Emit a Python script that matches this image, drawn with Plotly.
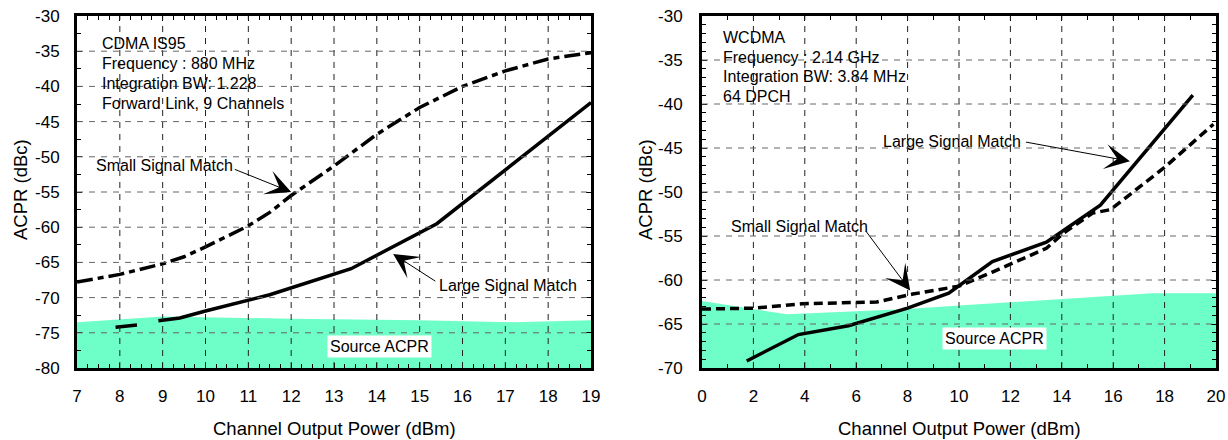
import plotly.graph_objects as go

# ---- CDMA IS95 (left panel) ----
cdma_small_x = [7, 8, 9, 9.5, 10, 11, 11.5, 12, 13, 14, 15, 16, 17, 18, 19]
cdma_small_y = [-67.8, -66.7, -65.2, -64.2, -62.8, -59.8, -57.9, -55.5, -51.3,
                -46.8, -43.0, -40.0, -37.8, -36.1, -35.2]
cdma_large_x = [7.9, 8.4, None, 8.9, 9.4, 10.0, 11.5, 13.4, 15.4, 19.0]
cdma_large_y = [-74.2, -73.9, None, -73.3, -72.9, -71.9, -69.6, -65.9, -59.5, -42.3]
cdma_src_x = [7, 9, 12, 15, 17.2, 19]
cdma_src_y = [-73.5, -72.7, -73.0, -73.2, -73.5, -73.2]
cdma_info = ["CDMA IS95", "Frequency : 880 MHz", "Integration BW: 1.228",
             "Forward Link, 9 Channels"]
cdma_xticks = [7, 8, 9, 10, 11, 12, 13, 14, 15, 16, 17, 18, 19]
cdma_xtext = ["7", "8", "9", "10", "11", "12", "13", "14", "15", "16", "17", "18", "19"]
cdma_yticks = [-80, -75, -70, -65, -60, -55, -50, -45, -40, -35, -30]
cdma_ytext = ["-80", "-75", "-70", "-65", "-60", "-55", "-50", "-45", "-40", "-35", "-30"]

# ---- WCDMA (right panel) ----
wcdma_large_x = [1.74, 3.75, 5.7, 8.0, 9.6, 11.3, 13.4, 15.5, 19.1]
wcdma_large_y = [-69.2, -66.2, -65.2, -63.2, -61.5, -57.9, -55.7, -51.5, -39.0]
wcdma_small_x = [0, 2, 3.9, 6.8, 8.2, 10, 11.3, 13.4, 14.1, 15.2, 15.9, 18, 19.9]
wcdma_small_y = [-63.3, -63.2, -62.7, -62.5, -61.6, -60.7, -59.1, -56.4, -54.6,
                 -52.4, -52.0, -47.2, -42.3]
wcdma_src_x = [0, 3.3, 8, 10, 17.5, 20]
wcdma_src_y = [-62.4, -63.9, -63.3, -62.9, -61.5, -61.5]
wcdma_info = ["WCDMA", "Frequency : 2.14 GHz", "Integration BW: 3.84 MHz", "64 DPCH"]
wcdma_xticks = [0, 2, 4, 6, 8, 10, 12, 14, 16, 18, 20]
wcdma_xtext = ["0", "2", "4", "6", "8", "10", "12", "14", "16", "18", "20"]
wcdma_yticks = [-70, -65, -60, -55, -50, -45, -40, -35, -30]
wcdma_ytext = ["-70", "-65", "-60", "-55", "-50", "-45", "-40", "-35", "-30"]

x_title = "Channel Output Power (dBm)"
y_title = "ACPR (dBc)"

FONT = "Arial, Liberation Sans, sans-serif"
MINT = "#6EFFC8"
W, H = 1228, 440

fig = go.Figure()
shapes = []


def add_panel(xa, ya, xticks, yticks, src_x, src_y, small_x, small_y, small_dash,
              large_x, large_y):
    floor = yticks[0]
    # source ACPR region: a filled path down to the axis floor
    pts = [(src_x[0], floor)] + list(zip(src_x, src_y)) + [(src_x[-1], floor)]
    path = "M " + " L ".join(f"{px},{py}" for px, py in pts) + " Z"
    shapes.append(dict(type="path", path=path, xref=xa, yref=ya, layer="below",
                       fillcolor=MINT, line=dict(width=0)))
    # dashed grid drawn on top of the shaded region
    for v in xticks[1:-1]:
        shapes.append(dict(type="line", xref=xa, yref=ya, x0=v, x1=v,
                           y0=yticks[0], y1=yticks[-1], layer="above",
                           line=dict(color="#222", width=1, dash="6px,6px")))
    for v in yticks[1:-1]:
        shapes.append(dict(type="line", xref=xa, yref=ya, x0=xticks[0], x1=xticks[-1],
                           y0=v, y1=v, layer="above",
                           line=dict(color="#666", width=1, dash="6px,6px")))
    fig.add_trace(go.Scatter(x=small_x, y=small_y, xaxis=xa, yaxis=ya, mode="lines",
                             line=dict(color="black", width=3.5, dash=small_dash),
                             showlegend=False))
    fig.add_trace(go.Scatter(x=large_x, y=large_y, xaxis=xa, yaxis=ya, mode="lines",
                             line=dict(color="black", width=3.5), connectgaps=False,
                             showlegend=False))


add_panel("x", "y", cdma_xticks, cdma_yticks, cdma_src_x, cdma_src_y, cdma_small_x,
          cdma_small_y, "16px,5px,6px,5px", cdma_large_x, cdma_large_y)
add_panel("x2", "y2", wcdma_xticks, wcdma_yticks, wcdma_src_x, wcdma_src_y,
          wcdma_small_x, wcdma_small_y, "9px,5px", wcdma_large_x, wcdma_large_y)


def axis_style(vals, text, minor_dtick, domain, anchor, standoff):
    return dict(range=[vals[0], vals[-1]], tickmode="array", tickvals=vals,
                ticktext=text, domain=domain, anchor=anchor,
                showline=True, linecolor="black", linewidth=3, mirror="allticks",
                ticks="inside", ticklen=5, tickwidth=1, tickcolor="black",
                minor=dict(tick0=vals[0], dtick=minor_dtick, ticks="inside",
                           ticklen=4, tickcolor="black", showgrid=False),
                showgrid=False, zeroline=False,
                tickfont=dict(family=FONT, size=17, color="black"),
                ticklabelstandoff=standoff)


dom_y = [1 - 368 / H, 1 - 16 / H]
fig.update_layout(
    width=W, height=H, margin=dict(l=0, r=0, t=0, b=0, autoexpand=False),
    paper_bgcolor="white", plot_bgcolor="white",
    xaxis=axis_style(cdma_xticks, cdma_xtext, 0.25, [77 / W, 591 / W], "y", 11),
    yaxis=axis_style(cdma_yticks, cdma_ytext, 2.5, dom_y, "x", 11),
    xaxis2=axis_style(wcdma_xticks, wcdma_xtext, 1, [702 / W, 1216 / W], "y2", 11),
    yaxis2=axis_style(wcdma_yticks, wcdma_ytext, 1, dom_y, "x2", 13),
    font=dict(family=FONT, color="black"),
)

ann = []
# axis titles
for cx in (334, 959):
    ann.append(dict(text=x_title, xref="paper", yref="paper", x=cx / W, y=1 - 428 / H,
                    showarrow=False, font=dict(size=18.5), xanchor="center",
                    yanchor="middle"))
for cx in (20, 645):
    ann.append(dict(text=y_title, xref="paper", yref="paper", x=cx / W, y=1 - 190 / H,
                    showarrow=False, textangle=-90, font=dict(size=18.5),
                    xanchor="center", yanchor="middle"))

# measurement condition blocks
for i, line in enumerate(cdma_info):
    ann.append(dict(text=line, xref="paper", yref="paper", x=100 / W,
                    y=1 - (44 + 19.7 * i) / H, showarrow=False, font=dict(size=16),
                    xanchor="left", yanchor="middle"))
for i, line in enumerate(wcdma_info):
    ann.append(dict(text=line, xref="paper", yref="paper", x=721 / W,
                    y=1 - (37.5 + 19.7 * i) / H, showarrow=False, font=dict(size=16),
                    xanchor="left", yanchor="middle"))


def label(xa, ya, x, y, text, box=False):
    d = dict(text=text, xref=xa, yref=ya, x=x, y=y, showarrow=False,
             font=dict(size=16), xanchor="center", yanchor="middle")
    if box:
        d.update(bgcolor="white", borderpad=2)
    ann.append(d)


def arrow(xa, ya, tx, ty, hx, hy):
    ann.append(dict(text="", xref=xa, yref=ya, x=hx, y=hy, axref=xa, ayref=ya,
                    ax=tx, ay=ty, showarrow=True, arrowhead=3, arrowsize=4.2,
                    arrowwidth=1, arrowcolor="black", standoff=0))


# left panel labels
label("x", "y", 9.05, -51.3, "Small Signal Match")
arrow("x", "y", 10.65, -51.7, 12.0, -55.0)
label("x", "y", 17.07, -68.3, "Large Signal Match")
arrow("x", "y", 15.4, -67.8, 14.38, -63.8)
label("x", "y", 14.07, -77.0, "Source ACPR", box=True)

# right panel labels
label("x2", "y2", 9.71, -44.25, "Large Signal Match")
arrow("x2", "y2", 12.55, -44.3, 16.65, -46.5)
label("x2", "y2", 3.78, -53.95, "Small Signal Match")
arrow("x2", "y2", 6.34, -54.3, 8.1, -61.2)
label("x2", "y2", 11.4, -66.6, "Source ACPR", box=True)

fig.update_layout(annotations=ann, shapes=shapes)
fig.write_html("out.html")
